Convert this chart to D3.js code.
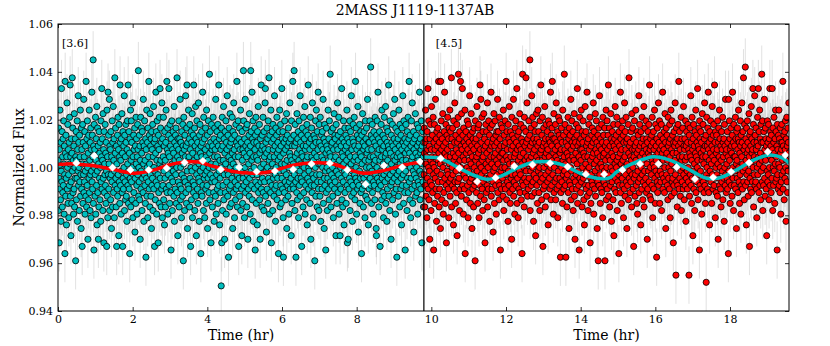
<!DOCTYPE html>
<html>
<head>
<meta charset="utf-8">
<script src="https://cdn.jsdelivr.net/npm/d3@7"></script>
<style>
  body { margin: 0; background: #fff; }
  text { font-family: "DejaVu Serif", serif; }
</style>
</head>
<body>
<div id="chart"></div>
<script>
// time span of each channel (hr)
const span36 = [0, 9.8];
const span45 = [9.8, 19.58];

// flux of each exposure, two digits per point: flux = 1 + (v - 50) * 0.0015
const flux36 = [
  "52386147295544665041 57354972466039534358 45635137564826745442 59473453684450624055 48365745645173425331 46584054754961435237 56446539504758245360 41524763355549704557 50385946536642483361 44552851624057486943",
  "53466037495642745139 58456350305441594766 43523857486136554971 46594453804056276250 55424864375258456734 49614356305139604754 41575035634653724458 52386547552960435148 62455440574928664253 36714859445169385647",
  "55416048335346633957 50674352583649754554 61473956285144594264 48553162465340735745 52375849654354286047 44565070385946534162 57424835556351457340 49604454265847663952 63465741506836534859 43554961324756406451",
  "58453753624855774250 46594156305264444961 54386047574369513556 48634552405825554766 42505736614653744459 51396548564258336045 55476238536744505728 49584154714660375263 45564829594355644051 72476152395744685036",
  "58455364414956346047 52395766445074435561 37544859724553406250 56432758476351385546 60495442673557524459 48614056507543533158 46556339525845694150 57443660485442625624 51644755385946537043 56406173493357455266",
  "44535839624755285060 41574965365446594373 52456138565067425831 48635344574055684751 35594662495426564360 53425771455038645247 58364855614453406649 45593352476356435076 54416048572951624655 39564764504358355361",
  "46554269513757486044 53624056457349583452 47594355176129506438 56455267415848305460 43516337574655704942 59482553614456396550 45575240584764543360 51436849553659465341 62504457744839564563 53285847614255506638",
  "49574431605240554777 63455436585069435661 46533962485730554451 59426547543756774960 45527141584863355357 50446155275946644053 57483460524567435649 62415430585046734455 39594756644351386053 46556872425749325461",
  "44505840634755755237 59465343664929574560 51386255475842537044 56483561504559644154 47575226554360496639 53624556405172475844 60362554495743635146 55415848653352594556 42615037574654684453 58473163524056497445",
  "51445977485638625346 25575043655441584760 36526345554970425751 47592854466153395664 43505848673755456052 56416234534759734450 49574655406451305845 61534368485636524759 45542458506342576648 53396046557144513862",
  "57484264513556465953 44605055694052583347 62455749275443615650 38554766524458416349 54764653396048564557 50426136554765524459 46585331624956405168 55435948643752574531 60504456477241545839 53466351345749614355",
  "48594056526645295850 30546144574763385360 46517042554935584562 57435264485641537447 50613755465944675232 56455849624054476043 53265951446548573955 47604556365263425850 61485441694655345752 44575063475378455940",
  "55496243583753466051 45574164524856333159 50634754714458395546 60522857494562534166 47554359513656486442 58465367405449613557 44526047567342555038 63485445305951574662 41564965534358476952 55376150445725534860",
  "46584254664956396251 53445947345561455270 57484063505643582754 49625245573860475564 43515874465441595036 56476352446853405749 60325548584551654254 47595043625637534661 52455771494158544455 63482956516046533957"
];
const flux45 = [
  "48615439574566514258 53366047557244506341 56493058466252385567 45535943516448275750 62405547695344583560 49564261524674543957 44595133744863554153 58466550375643605271 47544057624529535949 55644844583661514666",
  "42536047567539585045 61485434635244576846 53405949554362315751 46647654475838605244 74505642654955724559 53376148574452662656 47605441585063455536 62494357527046594054 51654756335360445848 39556150455724635246",
  "58435367495640614754 62365159457355426950 48576444523860534665 55415849295647625143 60544568395750446352 47593555614853714256 51446257463258496553 40565063544559375260 57486943516046554164 45535827564962445450",
  "61475442665238595645 50634457487453416055 46523562495845675143 57406053475530644859 44565169425846533761 54486345575072405547 59365260445649654353 48625541585126467657 45546150396447565243 60754957466853425851",
  "44556347525980385649 61455370425750644654 35584862554360513157 47655345584056664952 60435750386354467348 55415952644728564461 50574567533958486254 42565160465534634958 53476244577150415945 56617452485837546543",
  "50584655624153684757 44526036564964455951 63475425584355615046 57406652485944537649 55624551255747603954 48566443535833614652 59455069415549635744 53603856475265425830 46575448624459517240 56496145532757644755",
  "43585266465539605057 63475441593453486745 51604456497142575338 58456250554364295247 40564859466153455768 54376051445849654255 47635257335446592450 61455670485340585144 55624350573664475359 46544961245652456641",
  "57506344554759734253 48613956524565505835 54466049574153623156 44585167475543595064 52385746625348266045 56495471435851405561 47634552593657504468 53426048556446573351 58455062415475475649 43575346605239654855",
  "61504458285347635542 56486652455740546037 49594655704351624756 53346050574464485441 58465267395649614553 47635543585130574460 54496246537342555058 41564859456452365751 60445550664753406249 56522558466143544868",
  "45575163405549594653 62385648547144585247 55604350654657335361 48545945524164564750 57446253365849664255 51634659475429574560 43565268485720506146 54395845625156744453 60475542574964385258 46536150446748564155",
  "58455263355647605349 44576250465520594254 61485370455740526447 55315849624456513860 47546643535946575072 52415648615527634558 49604454573752654753 62465551435868455640 53591848645056446147 71554357523460495463",
  "46585140566748534459 55624552734757366050 43545948554263513057 61475366455850445639 52604655496441575347 58356250564569485443 55514760445753266949 46635258405548614556 54425971504757386253 45564953644458513360",
  "52476155435866504657 40544863563759455368 57445160497546554162 50567845585234614854 63465742554965532859 47604456516743585446 55725062395748537045 59524661554436575064 48567253436051664558 54416249577652466338",
  "57504560536947554261 52584456315449634657 48625541585072455360 56435952477255386150 45576449544058516646 60534756276248554459 51664558504361543757 46556248575274445649 59415360475563503558 52644656436149575468"
];
const fluxErr = 0.012;

// light-curve models: [time (hr), flux]
const model36 = [[0,1.0013],[0.48,1.0015],[0.99,1.0006],[1.53,0.9990],[2.05,0.9976],[2.59,0.9990],[2.95,1.0010],
  [3.39,1.0023],[3.75,1.0023],[4.20,1.0003],[4.73,0.9982],[5.20,0.9976],[5.68,0.9982],[6.30,1.0010],[6.84,1.0020],
  [7.37,1.0015],[7.82,0.9990],[8.18,0.9976],[8.71,0.9987],[9.25,1.0010],[9.61,1.0020],[9.8,1.0021]];
const model45 = [[9.8,1.0044],[10.23,1.0038],[10.68,1.0003],[11.12,0.9969],[11.48,0.9951],[11.84,0.9962],[12.29,0.9997],
  [12.73,1.0022],[13.13,1.0024],[13.54,1.0010],[13.98,0.9976],[14.43,0.9955],[14.79,0.9958],[14.97,0.9982],[15.50,1.0024],
  [15.95,1.0045],[16.39,1.0031],[16.84,0.9997],[17.38,0.9955],[17.73,0.9957],[18.18,0.9990],[18.63,1.0031],[19.07,1.0052],
  [19.43,1.0038],[19.58,1.0018]];

// binned fluxes (white diamonds)
const binT36 = [0.49,0.97,1.46,1.94,2.43,2.91,3.39,3.88,4.36,4.85,5.32,5.81,6.30,6.79,7.28,7.75,8.24,8.73,9.22,9.70];
const binF36 = [1.0019,1.0049,1.0000,0.9990,0.9990,0.9997,1.0021,1.0028,0.9992,1.0001,0.9983,0.9985,0.9992,1.0015,1.0018,0.9990,0.9930,1.0008,1.0001,1.0024];
const binT45 = [10.25,10.75,11.23,11.72,12.22,12.71,13.18,13.65,14.14,14.63,15.12,15.59,16.08,16.57,17.06,17.55,18.03,18.51,19.01,19.48];
const binF45 = [1.0038,0.9997,0.9941,0.9957,1.0006,1.0012,1.0018,1.0003,0.9972,0.9972,0.9990,1.0015,1.0015,1.0001,0.9952,0.9959,0.9982,1.0020,1.0066,1.0052];

const xTicks = [0,2,4,6,8,10,12,14,16,18];
const yTicks = [0.94,0.96,0.98,1.00,1.02,1.04,1.06];

const W = 830, H = 346;
const mLeft = 58, mRight = 789, mTop = 24, mBottom = 311;

function decode(lines, span) {
  const vals = lines.join("").replace(/\s/g, "").match(/\d\d/g);
  const dt = (span[1] - span[0]) / vals.length;
  return vals.map((v, i) => ({t: span[0] + (i + 0.5) * dt, f: 1 + (+v - 50) * 0.0015}));
}
const pts36 = decode(flux36, span36);
const pts45 = decode(flux45, span45);

const x = d3.scaleLinear().domain([0, 19.58]).range([mLeft, mRight]);
const y = d3.scaleLinear().domain([0.94, 1.06]).range([mBottom, mTop]);

const svg = d3.select("#chart").append("svg")
  .attr("width", W).attr("height", H);

svg.append("defs").append("clipPath").attr("id", "plotclip")
  .append("rect").attr("x", mLeft).attr("y", mTop).attr("width", mRight - mLeft).attr("height", mBottom - mTop);

const plot = svg.append("g").attr("clip-path", "url(#plotclip)");

function drawPanel(pts, color, model, modelColor, binT, binF) {
  const g = plot.append("g");
  g.append("g").selectAll("line")
    .data(pts).join("line")
    .attr("x1", d => x(d.t)).attr("x2", d => x(d.t))
    .attr("y1", d => y(d.f - fluxErr)).attr("y2", d => y(d.f + fluxErr))
    .attr("stroke", "#9a9a9a").attr("stroke-opacity", 0.3).attr("stroke-width", 1);
  g.append("g").selectAll("circle")
    .data(pts).join("circle")
    .attr("cx", d => x(d.t)).attr("cy", d => y(d.f))
    .attr("r", 3.1)
    .attr("fill", color).attr("stroke", "#000").attr("stroke-width", 0.8);
  g.append("path")
    .datum(model)
    .attr("d", d3.line().x(d => x(d[0])).y(d => y(d[1])).curve(d3.curveCatmullRom))
    .attr("fill", "none").attr("stroke", modelColor).attr("stroke-width", 3.5);
  g.append("g").selectAll("path")
    .data(binT.map((t, i) => [t, binF[i]])).join("path")
    .attr("d", d3.symbol(d3.symbolSquare, 27)())
    .attr("transform", d => `translate(${x(d[0])},${y(d[1])}) rotate(45)`)
    .attr("fill", "#fff").attr("stroke", "#fff").attr("stroke-width", 0.5);
}

drawPanel(pts36, "#00bfbf", model36, "#ff0000", binT36, binF36);
drawPanel(pts45, "#ff0000", model45, "#00bfbf", binT45, binF45);

// axes, ticks pointing inward
const fmtY = d3.format(".2f");
svg.append("g").attr("transform", `translate(0,${mBottom})`)
  .call(d3.axisBottom(x).tickValues(xTicks).tickSize(-4).tickPadding(4).tickFormat(d3.format("d")));
svg.append("g").attr("transform", `translate(0,${mTop})`)
  .call(d3.axisTop(x).tickValues(xTicks).tickSize(-4).tickFormat(""));
svg.append("g").attr("transform", `translate(${mLeft},0)`)
  .call(d3.axisLeft(y).tickValues(yTicks).tickSize(-4).tickPadding(5).tickFormat(fmtY));
svg.append("g").attr("transform", `translate(${mRight},0)`)
  .call(d3.axisRight(y).tickValues(yTicks).tickSize(-4).tickFormat(""));
svg.selectAll(".domain").remove();
svg.selectAll(".tick line").attr("stroke", "#000").attr("stroke-width", 0.8);
svg.selectAll(".tick text").attr("font-family", "DejaVu Serif").attr("font-size", 11).attr("fill", "#000");

svg.append("rect")
  .attr("x", mLeft).attr("y", mTop).attr("width", mRight - mLeft).attr("height", mBottom - mTop)
  .attr("fill", "none").attr("stroke", "#000").attr("stroke-width", 1);
svg.append("line")
  .attr("x1", x(9.8)).attr("x2", x(9.8)).attr("y1", mTop).attr("y2", mBottom)
  .attr("stroke", "#000").attr("stroke-width", 1.2);

// labels
svg.append("text").attr("x", 415).attr("y", 15).attr("text-anchor", "middle")
  .attr("font-size", 14).text("2MASS J1119-1137AB");
svg.append("text").attr("x", (mLeft + x(9.8)) / 2).attr("y", 340).attr("text-anchor", "middle")
  .attr("font-size", 14).text("Time (hr)");
svg.append("text").attr("x", (x(9.8) + mRight) / 2).attr("y", 340).attr("text-anchor", "middle")
  .attr("font-size", 14).text("Time (hr)");
svg.append("text").attr("transform", `translate(24,${(mTop + mBottom) / 2}) rotate(-90)`)
  .attr("text-anchor", "middle").attr("font-size", 14).text("Normalized Flux");
svg.append("text").attr("x", mLeft + 4).attr("y", 47).attr("font-size", 11).text("[3.6]");
svg.append("text").attr("x", x(9.8) + 12).attr("y", 47).attr("font-size", 11).text("[4.5]");
</script>
</body>
</html>
